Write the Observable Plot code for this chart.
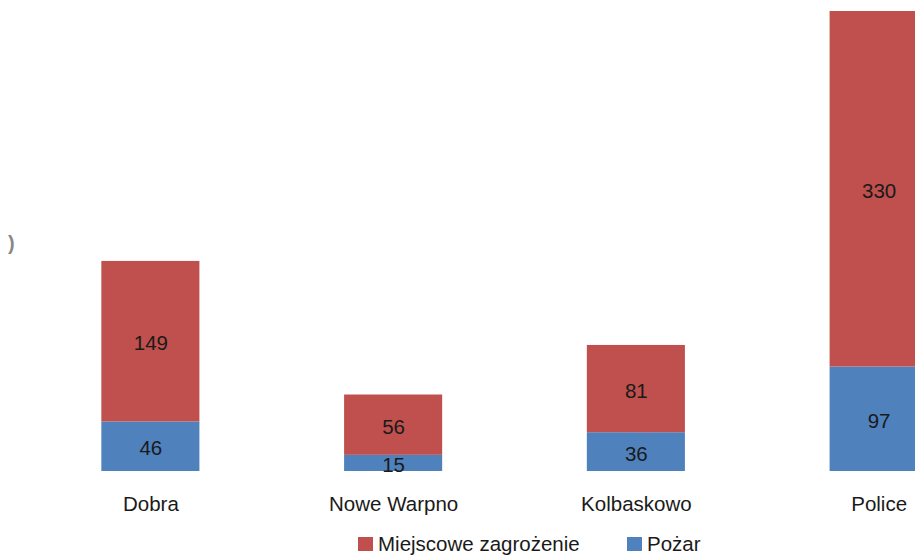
<!DOCTYPE html>
<html>
<head>
<meta charset="utf-8">
<script src="https://cdn.jsdelivr.net/npm/d3@7"></script>
<script src="https://cdn.jsdelivr.net/npm/@observablehq/plot@0.6"></script>
<style>
  html, body { margin: 0; padding: 0; background: #fff; overflow: hidden; }
  #wrap { position: relative; width: 915px; height: 557px; overflow: hidden; font-family: "Liberation Sans", Arial, sans-serif; }
  #chart { position: absolute; left: 0; top: 0; width: 1000px; height: 557px; }
  #chart svg { max-width: none !important; width: 1000px !important; height: 557px !important; }
  .frag { position: absolute; left: 8px; top: 232px; font-size: 20px; font-weight: bold; color: #888; }
  .legend { position: absolute; top: 533px; left: 358px; font-size: 20.5px; color: #1a1a1a; white-space: nowrap; }
  .legend .item { position: absolute; top: 0; display: flex; align-items: center; height: 22px; }
  .legend .sw { width: 15px; height: 14px; margin-right: 5px; display: inline-block; }
</style>
</head>
<body>
<div id="wrap">
  <div id="chart"></div>
  <div class="frag">)</div>
  <div class="legend" id="legend"></div>
</div>
<script>
const categories = ["Dobra", "Nowe Warpno", "Kolbaskowo", "Police"];
const seriesNames = ["Pożar", "Miejscowe zagrożenie"];
const pozar = [46, 15, 36, 97];
const miejscowe = [149, 56, 81, 330];
const colors = ["#4F81BD", "#C0504D"];

const data = [];
categories.forEach((c, i) => data.push({category: c, series: seriesNames[0], value: pozar[i]}));
categories.forEach((c, i) => data.push({category: c, series: seriesNames[1], value: miejscowe[i]}));

const chart = Plot.plot({
  width: 1000,
  height: 557,
  marginLeft: 29,
  marginRight: 0,
  marginTop: 11,
  marginBottom: 86,
  style: {fontFamily: "'Liberation Sans', Arial, sans-serif", fontSize: "20.5px", color: "#1a1a1a", background: "#fff"},
  x: {domain: categories, paddingInner: 0.596, paddingOuter: 0.298, round: false, label: null},
  y: {domain: [0, 427], axis: null},
  color: {domain: seriesNames, range: colors},
  marks: [
    Plot.barY(data, Plot.stackY({x: "category", y: "value", fill: "series", z: "series"})),
    Plot.text(data, Plot.stackY({x: "category", y: "value", z: "series", text: d => String(d.value), fill: "#1a1a1a", fontSize: 20.5, dy: 2})),
    Plot.axisX({tickSize: 0, tickPadding: 25, fontSize: 20.5, label: null, fill: "#1a1a1a"})
  ]
});
document.getElementById("chart").appendChild(chart);

const legend = document.getElementById("legend");
const legendX = [0, 269];
[1, 0].forEach((si, k) => {
  const item = document.createElement("div");
  item.className = "item";
  item.style.left = legendX[k] + "px";
  const sw = document.createElement("span");
  sw.className = "sw";
  sw.style.background = colors[si];
  item.appendChild(sw);
  item.appendChild(document.createTextNode(seriesNames[si]));
  legend.appendChild(item);
});
</script>
</body>
</html>
